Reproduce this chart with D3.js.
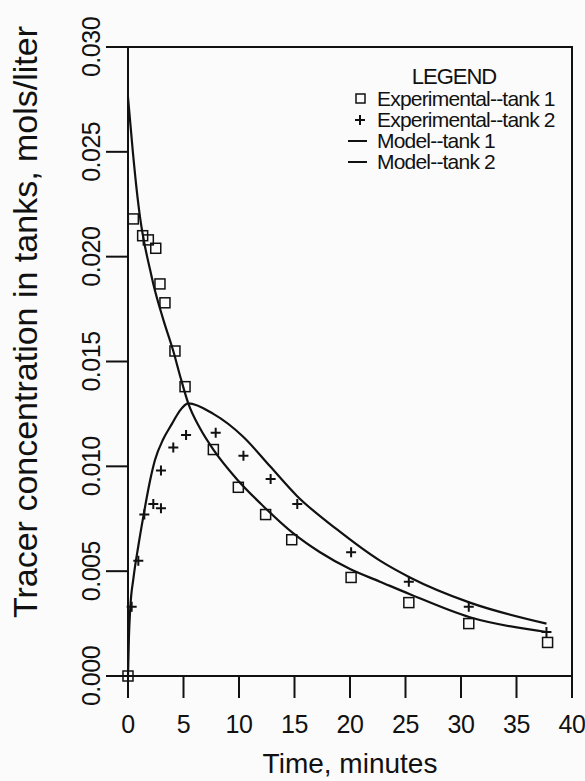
<!DOCTYPE html>
<html>
<head>
<meta charset="utf-8">
<script src="https://cdn.jsdelivr.net/npm/d3@7"></script>
<style>
  body { margin: 0; background: #fbfbfb; }
  text { font-family: "Liberation Sans", Arial, Helvetica, sans-serif; fill: #111; }
</style>
</head>
<body>
<svg width="585" height="781"></svg>
<script>
// tick labels
const xTicks = [0, 5, 10, 15, 20, 25, 30, 35, 40];
const yTicks = [0, 0.005, 0.010, 0.015, 0.020, 0.025, 0.030];

// experimental points, tank 1 (squares)
const expTank1Time = [0, 0.48, 1.32, 1.83, 2.5, 2.88, 3.33, 4.23, 5.14, 7.69, 9.94, 12.4, 14.75, 20.1, 25.3, 30.7, 37.8];
const expTank1Conc = [0, 0.0218, 0.0210, 0.0208, 0.0204, 0.0187, 0.0178, 0.0155, 0.0138, 0.0108, 0.0090, 0.0077, 0.0065, 0.0047, 0.0035, 0.0025, 0.0016];

// experimental points, tank 2 (plus signs)
const expTank2Time = [0, 0.33, 0.93, 1.47, 2.28, 2.97, 2.97, 4.08, 5.23, 7.9, 10.4, 12.85, 15.25, 20.1, 25.3, 30.7, 37.7];
const expTank2Conc = [0, 0.0033, 0.0055, 0.0077, 0.0082, 0.0080, 0.0098, 0.0109, 0.0115, 0.0116, 0.0105, 0.0094, 0.0082, 0.0059, 0.0045, 0.0033, 0.0021];

// model curves
const modelTank1Time = [0, 0.42, 0.78, 1.08, 1.38, 1.98, 2.28, 3.18, 4.08, 4.7, 5.43, 6.5, 7.69, 9.79, 12.19, 14.9, 17.3, 20, 22.7, 25.4, 30.8, 37.7];
const modelTank1Conc = [0.0276, 0.0251, 0.0232, 0.0219, 0.0209, 0.0194, 0.0187, 0.0170, 0.0155, 0.0143, 0.0130, 0.0118, 0.0108, 0.0094, 0.0081, 0.0068, 0.0059, 0.0051, 0.0045, 0.0039, 0.0028, 0.0021];
const modelTank2Time = [0, 0.08, 0.2, 0.5, 0.93, 1.38, 1.98, 2.43, 3.18, 3.93, 4.6, 5.43, 7.69, 10.4, 12.8, 15.2, 18.8, 22.7, 25.4, 30.8, 37.7];
const modelTank2Conc = [0, 0.0018, 0.0032, 0.0047, 0.0062, 0.0076, 0.0093, 0.0103, 0.0113, 0.0120, 0.0126, 0.0130, 0.0125, 0.0114, 0.0100, 0.0086, 0.0070, 0.0055, 0.0047, 0.0035, 0.0025];

const legendLabels = ["Experimental--tank 1", "Experimental--tank 2", "Model--tank 1", "Model--tank 2"];

var svg = d3.select("svg"),
    margin = {top: 47, right: 13, bottom: 105, left: 128},
    width = +svg.attr("width") - margin.left - margin.right,
    height = +svg.attr("height") - margin.top - margin.bottom,
    g = svg.append("g").attr("transform", "translate(" + margin.left + "," + margin.top + ")");

var x = d3.scaleLinear().domain([0, 40]).range([0, width]);
var y = d3.scaleLinear().domain([0, 0.030]).range([height, 0]);

var tickLen = 22;

// frame
g.append("rect")
    .attr("width", width)
    .attr("height", height)
    .attr("fill", "none")
    .attr("stroke", "#111")
    .attr("stroke-width", 2);

// x ticks + labels
g.selectAll(".xtick").data(xTicks).enter().append("line")
    .attr("x1", d => x(d)).attr("x2", d => x(d))
    .attr("y1", height).attr("y2", height + tickLen)
    .attr("stroke", "#111").attr("stroke-width", 2);

g.selectAll(".xlab").data(xTicks).enter().append("text")
    .attr("x", d => x(d))
    .attr("y", height + 57)
    .attr("text-anchor", "middle")
    .style("font-size", "25px")
    .style("letter-spacing", "-0.5px")
    .text(d => d);

// y ticks + rotated labels
g.selectAll(".ytick").data(yTicks).enter().append("line")
    .attr("x1", -tickLen).attr("x2", 0)
    .attr("y1", d => y(d)).attr("y2", d => y(d))
    .attr("stroke", "#111").attr("stroke-width", 2);

g.selectAll(".ylab").data(yTicks).enter().append("text")
    .attr("transform", d => "translate(-28," + y(d) + ") rotate(-90)")
    .attr("text-anchor", "middle")
    .style("font-size", "25px")
    .style("letter-spacing", "-0.5px")
    .text(d => d3.format(".3f")(d));

// axis titles
g.append("text")
    .attr("x", width / 2)
    .attr("y", height + 97)
    .attr("text-anchor", "middle")
    .style("font-size", "28px")
    .text("Time, minutes");

svg.append("text")
    .attr("transform", "translate(37,322) rotate(-90)")
    .attr("text-anchor", "middle")
    .style("font-size", "34px")
    .text("Tracer concentration in tanks, mols/liter");

// model lines
var line = d3.line()
    .x(function(d) { return x(d[0]); })
    .y(function(d) { return y(d[1]); })
    .curve(d3.curveMonotoneX);

var model1 = d3.zip(modelTank1Time, modelTank1Conc);
var model2 = d3.zip(modelTank2Time, modelTank2Conc);

[model1, model2].forEach(function(series) {
  g.append("path")
      .datum(series)
      .attr("fill", "none")
      .attr("stroke", "#111")
      .attr("stroke-width", 2.2)
      .attr("stroke-linejoin", "round")
      .attr("d", line);
});

// squares
var sq = 10;
g.selectAll(".sq").data(d3.zip(expTank1Time, expTank1Conc)).enter().append("rect")
    .attr("x", d => x(d[0]) - sq / 2)
    .attr("y", d => y(d[1]) - sq / 2)
    .attr("width", sq).attr("height", sq)
    .attr("fill", "none")
    .attr("stroke", "#111")
    .attr("stroke-width", 1.5);

// plus signs
var pl = 5;
g.selectAll(".pl").data(d3.zip(expTank2Time, expTank2Conc)).enter().append("path")
    .attr("d", d => {
      var cx = x(d[0]), cy = y(d[1]);
      return "M" + (cx - pl) + "," + cy + "H" + (cx + pl) + "M" + cx + "," + (cy - pl) + "V" + (cy + pl);
    })
    .attr("stroke", "#111")
    .attr("stroke-width", 2);

// legend
var lg = svg.append("g");
lg.append("text")
    .attr("x", 454).attr("y", 84)
    .attr("text-anchor", "middle")
    .style("font-size", "22px")
    .style("letter-spacing", "-1px")
    .text("LEGEND");

var rowY = d3.scalePoint().domain(legendLabels).range([106, 169]);

lg.selectAll(".lt").data(legendLabels).enter().append("text")
    .attr("x", 377)
    .attr("y", d => rowY(d))
    .style("font-size", "21px")
    .style("letter-spacing", "-0.8px")
    .text(d => d);

lg.append("rect")
    .attr("x", 356).attr("y", rowY(legendLabels[0]) - 12)
    .attr("width", 9).attr("height", 9)
    .attr("fill", "none").attr("stroke", "#111").attr("stroke-width", 1.5);

lg.append("path")
    .attr("d", "M355," + (rowY(legendLabels[1]) - 7) + "H365M360," + (rowY(legendLabels[1]) - 12) + "V" + (rowY(legendLabels[1]) - 2))
    .attr("stroke", "#111").attr("stroke-width", 2);

legendLabels.slice(2).forEach(function(lab) {
  lg.append("line")
      .attr("x1", 348).attr("x2", 367)
      .attr("y1", rowY(lab) - 7).attr("y2", rowY(lab) - 7)
      .attr("stroke", "#111").attr("stroke-width", 2);
});
</script>
</body>
</html>
